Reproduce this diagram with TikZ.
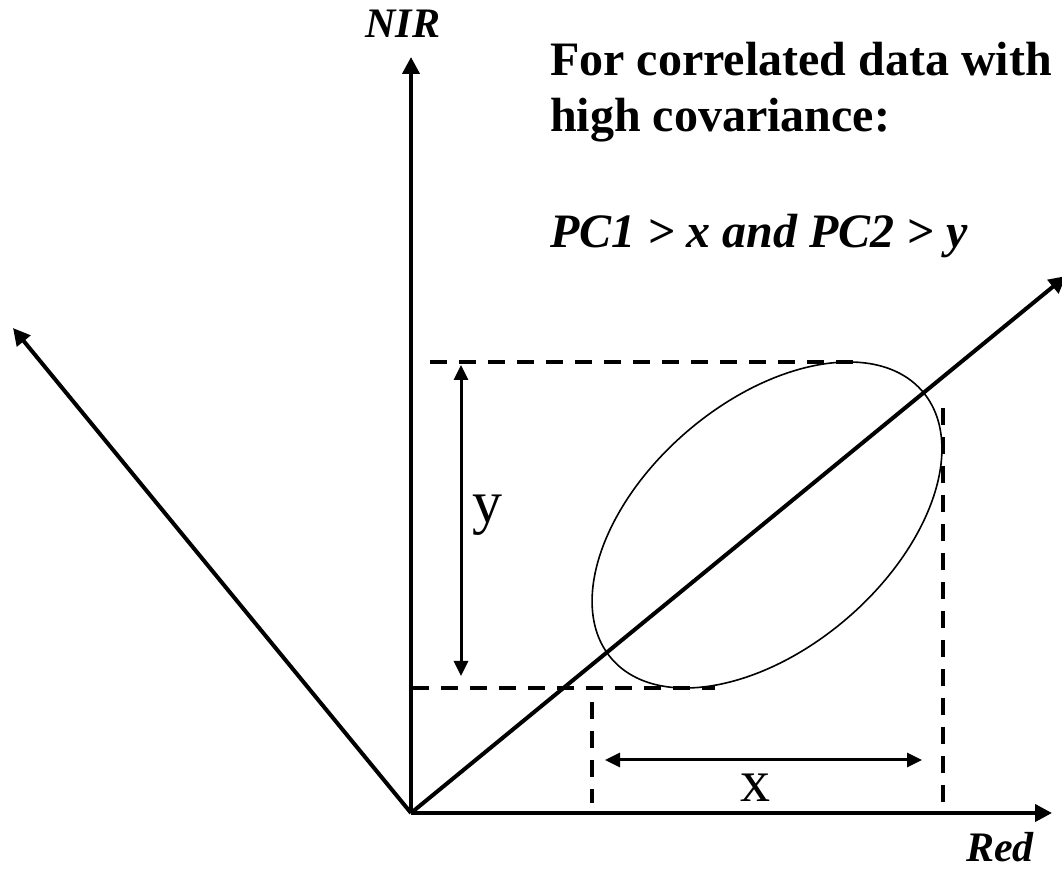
\documentclass[tikz,border=0pt]{standalone}
\usepackage{fontspec}
\setmainfont{Liberation Serif}
\usepackage{tikz}
\usetikzlibrary{arrows.meta}

\begin{document}
\begin{tikzpicture}[
  x=1pt, y=1pt,
  axis/.style={-{Triangle[length=17pt,width=17pt]}, line width=4pt},
  guide/.style={line width=4pt, dash pattern=on 17pt off 12pt},
  dim/.style={{Triangle[length=15pt,width=14pt]}-{Triangle[length=15pt,width=14pt]},
              line width=3pt},
  axlabel/.style={font=\fontsize{42}{50}\selectfont\bfseries\itshape,
                  inner sep=0pt, anchor=base},
  note/.style={font=\fontsize{48}{56}\selectfont\bfseries,
               inner sep=0pt, anchor=base west},
  letter/.style={font=\fontsize{60}{70}\selectfont, inner sep=0pt, anchor=base}
]
\useasboundingbox (0,0) rectangle (1062,872);

% axes
\coordinate (o) at (411,59);
\coordinate (nirend) at (411,815);
\coordinate (redend) at (1052,59);
\coordinate (pc1end) at (1066,596);
\coordinate (pc2end) at (13,544);

\draw[axis] (o) -- (nirend);
\draw[axis] (o) -- (redend);
\draw[axis] (o) -- (pc1end);
\draw[axis] (o) -- (pc2end);

\node[axlabel] (nir) at (403,834) {NIR};
\node[axlabel] (red) at (1000,10) {Red};

% data cloud
\draw[line width=1.6pt, rotate around={40.7:(767,347)}]
  (767,347) ellipse [x radius=205, y radius=123];

% extent of the cloud
\coordinate (topl) at (430,510);
\coordinate (topr) at (855,510);
\coordinate (botl) at (412,184);
\coordinate (botr) at (715,184);
\coordinate (lefttop) at (592,170);
\coordinate (leftbot) at (592,69);
\coordinate (righttop) at (943,464);
\coordinate (rightbot) at (943,69);

\draw[guide] (topl) -- (topr);
\draw[guide] (botl) -- (botr);
\draw[guide] (lefttop) -- (leftbot);
\draw[guide] (righttop) -- (rightbot);

\coordinate (ytop) at (461,507);
\coordinate (ybot) at (461,196);
\coordinate (xleft) at (605,112);
\coordinate (xright) at (922,112);

\draw[dim] (ytop) -- (ybot);
\draw[dim] (xleft) -- (xright);

\node[letter] (ylbl) at (487,349) {y};
\node[letter] (xlbl) at (755,70) {x};

% note
\node[note] (line1) at (550,796) {For correlated data with};
\node[note] (line2) at (550,740) {high covariance:};
\node[note, font=\fontsize{48}{56}\selectfont\bfseries\itshape] (line3) at (550,624)
  {PC1 > x and PC2 > y};
\end{tikzpicture}
\end{document}
